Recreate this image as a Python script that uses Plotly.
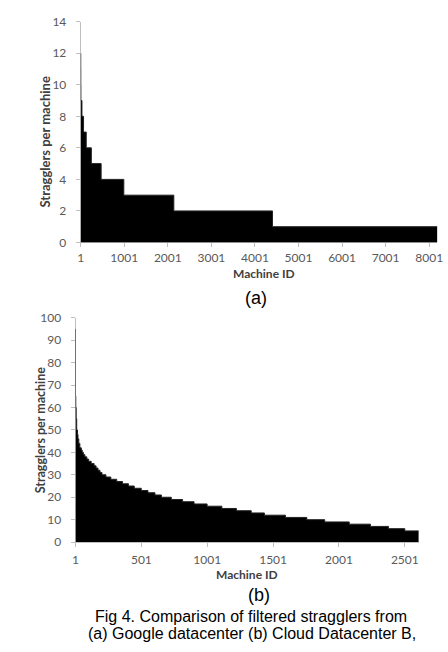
import plotly.graph_objects as go

# ---- Data (a) Google datacenter: step values and last machine ID of each step
a_values = [12, 11, 10, 9, 8, 7, 6, 5, 4, 3, 2, 1]
a_ends = [2, 3, 5, 30, 66, 128, 245, 470, 991, 2139, 4404, 8190]

# ---- Data (b) Cloud Datacenter B
b_values = [95, 65, 60, 55, 50, 48, 46, 44, 42, 41, 40, 39, 38, 37, 36, 35, 34, 33,
            32, 31, 30, 29, 28, 27, 26, 25, 24, 23, 22, 21, 20, 19, 18, 17, 16, 15,
            14, 13, 12, 11, 10, 9, 8, 7, 6, 5]
b_ends = [1, 3, 6, 10, 16, 20, 26, 34, 45, 52, 61, 72, 87, 101, 120, 142, 157, 172,
          187, 202, 232, 269, 314, 358, 403, 447, 500, 551, 604, 653, 728, 814, 901,
          1000, 1112, 1223, 1335, 1435, 1595, 1757, 1893, 2079, 2240, 2377, 2501, 2607]

a_ticks = [1, 1001, 2001, 3001, 4001, 5001, 6001, 7001, 8001]
a_yticks = [0, 2, 4, 6, 8, 10, 12, 14]
b_ticks = [1, 501, 1001, 1501, 2001, 2501]
b_yticks = [0, 10, 20, 30, 40, 50, 60, 70, 80, 90, 100]

W, H = 448, 652
AX = "#bfbfbf"
TXT = "#595959"
TTL = "#404040"
FONT = "Lato"


def step_xy(values, ends):
    xs = [1] + list(ends)
    ys = list(values) + [values[-1]]
    return xs, ys


fig = go.Figure()
ax_, ay_ = step_xy(a_values, a_ends)
bx_, by_ = step_xy(b_values, b_ends)
fig.add_trace(go.Scatter(x=ax_, y=ay_, mode="lines", line=dict(shape="hv", color="#222", width=1),
                         fill="tozeroy", fillcolor="black", xaxis="x", yaxis="y", showlegend=False))
fig.add_trace(go.Scatter(x=bx_, y=by_, mode="lines", line=dict(shape="hv", color="#222", width=1),
                         fill="tozeroy", fillcolor="black", xaxis="x2", yaxis="y2", showlegend=False))


def px(x):
    return x / W


def py(y):
    return (H - y) / H


axis_common = dict(showgrid=False, zeroline=False, showline=True, linecolor=AX, linewidth=1,
                   ticks="outside", tickcolor=AX, ticklen=4, tickwidth=1, layer="below traces",
                   ticklabeloverflow="allow",
                   tickfont=dict(family=FONT, size=12, color=TXT))

fig.update_layout(
    width=W, height=H, margin=dict(l=0, r=0, t=0, b=0),
    paper_bgcolor="white", plot_bgcolor="white",
    xaxis=dict(domain=[px(79.3), px(443.3)], range=[1, 8190], anchor="y",
               tickvals=a_ticks, ticktext=[str(t) for t in a_ticks], ticklabelstandoff=0,
               **axis_common),
    yaxis=dict(domain=[py(240), py(14)], range=[0, 14], anchor="x",
               tickvals=a_yticks, ticklabelstandoff=7, **axis_common),
    xaxis2=dict(domain=[px(74), px(424.3)], range=[1, 2607], anchor="y2",
                tickvals=b_ticks, ticktext=[str(t) for t in b_ticks], ticklabelstandoff=2,
                **axis_common),
    yaxis2=dict(domain=[py(546.7), py(317)], range=[0, 100], anchor="x2",
                tickvals=b_yticks, ticklabelstandoff=7, **axis_common),
)


def note(text, x, y, size, family=FONT, color=TTL, angle=0):
    return dict(text=text, x=px(x), y=py(y), xref="paper", yref="paper", xanchor="center",
                yanchor="middle", textangle=angle, showarrow=False,
                font=dict(family=family, size=size, color=color))


ann = [
    note("<b>Stragglers per machine</b>", 43, 137.5, 13, angle=-90),
    note("<b>Machine ID</b>", 266, 272, 12),
    note("(a)", 258, 297, 18, family="Liberation Sans", color="black"),
    note("<b>Stragglers per machine</b>", 38, 432, 12.5, angle=-90),
    note("<b>Machine ID</b>", 249, 580, 12),
    note("(b)", 261, 601, 18, family="Liberation Sans", color="black"),
    note("Fig 4. Comparison of filtered stragglers from", 253, 623, 16,
         family="Liberation Sans", color="black"),
    note("(a) Google datacenter (b) Cloud Datacenter B,", 254, 640, 16,
         family="Liberation Sans", color="black"),
]
fig.update_layout(annotations=ann)

fig.write_html("out.html")
